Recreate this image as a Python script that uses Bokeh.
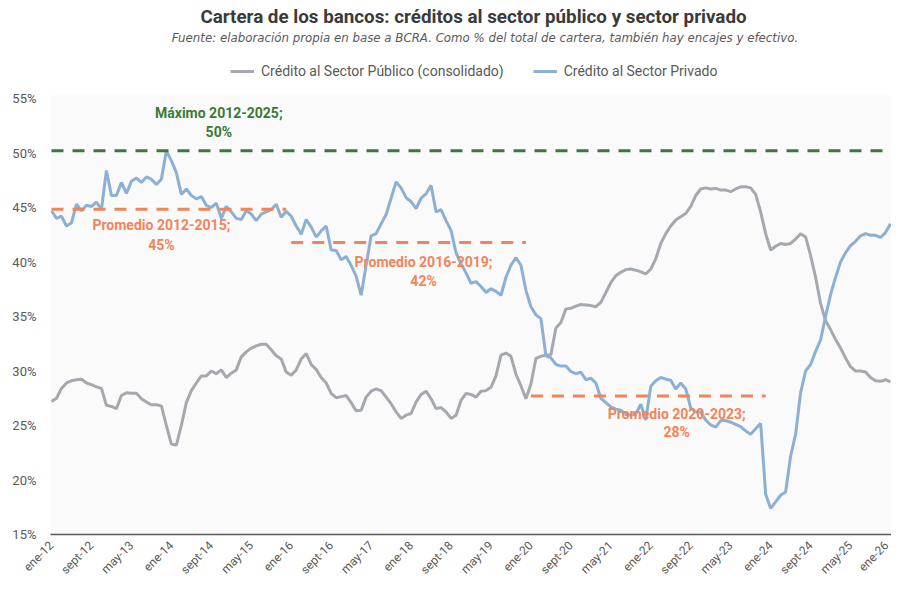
from math import pi
from bokeh.plotting import figure
from bokeh.models import Range1d, Label, Legend, LegendItem, FixedTicker
from bokeh.embed import file_html
from bokeh.resources import INLINE

# ---------------- data (monthly, ene-2012 .. ene-2026, % of bank portfolio) ----------------
private = [
    44.7, 44.0, 44.2, 43.3, 43.6, 45.3, 44.7, 45.2, 45.1, 45.5,
    44.8, 48.4, 46.1, 46.1, 47.3, 46.3, 47.4, 47.7, 47.3, 47.8,
    47.6, 47.1, 47.6, 50.2, 49.3, 48.2, 46.2, 46.7, 46.1, 45.8,
    46.0, 45.2, 45.0, 45.4, 44.0, 45.1, 44.6, 44.0, 43.9, 44.7,
    44.4, 43.8, 44.4, 44.6, 44.8, 45.3, 44.1, 44.65, 44.2, 43.3,
    42.55, 43.9, 43.2, 42.3, 42.85, 43.3, 41.1, 41.05, 40.2, 40.5,
    39.7, 38.7, 36.95, 39.7, 42.4, 42.6, 43.5, 44.35, 45.85, 47.35,
    46.8, 45.9, 45.55, 44.9, 45.85, 46.25, 47.05, 44.6, 44.8, 43.8,
    42.9, 40.85, 39.85, 39.0, 38.05, 38.2, 37.75, 37.2, 37.55, 37.3,
    36.95, 38.6, 39.7, 40.4, 39.7, 37.4, 35.9, 35.15, 34.8, 31.4,
    31.2, 30.6, 30.45, 30.45, 29.95, 29.75, 29.9, 29.2, 29.35, 28.9,
    27.5, 27.1, 26.7, 26.5, 26.4, 26.0, 25.95, 26.05, 26.95, 25.5,
    28.6, 29.1, 29.4, 29.25, 29.15, 28.35, 28.9, 28.35, 26.6, 26.25,
    26.25, 25.5, 25.05, 24.85, 25.45, 25.45, 25.3, 25.1, 24.9, 24.5,
    24.2, 24.7, 25.2, 18.7, 17.4, 18.0, 18.6, 18.9, 22.2, 24.2,
    28.0, 30.0, 30.6, 31.8, 32.85, 35.0, 37.0, 38.6, 40.0, 40.85,
    41.5, 41.9, 42.4, 42.6, 42.45, 42.45, 42.25, 42.7, 43.5,
]

public = [
    27.2, 27.5, 28.4, 28.9, 29.1, 29.2, 29.25, 28.9, 28.75, 28.55,
    28.4, 26.85, 26.75, 26.55, 27.75, 28.0, 27.95, 27.95, 27.45, 27.15,
    26.9, 26.9, 26.8, 25.0, 23.3, 23.2, 25.0, 27.1, 28.2, 28.9,
    29.55, 29.55, 30.0, 29.75, 30.1, 29.4, 29.8, 30.1, 31.3, 31.75,
    32.1, 32.3, 32.45, 32.45, 31.95, 31.4, 31.1, 29.9, 29.6, 30.1,
    31.1, 31.6, 30.6, 30.15, 29.4, 28.9, 27.95, 27.55, 27.65, 27.75,
    27.1, 26.35, 26.4, 27.6, 28.15, 28.35, 28.2, 27.6, 27.0, 26.25,
    25.65, 25.95, 26.1, 27.15, 27.85, 28.15, 27.45, 26.55, 26.65, 26.25,
    25.65, 25.95, 27.3, 27.95, 27.85, 27.6, 28.15, 28.2, 28.5, 29.55,
    31.45, 31.65, 31.35, 29.7, 28.65, 27.45, 28.8, 31.15, 31.35, 31.45,
    31.5, 33.95, 34.45, 35.7, 35.75, 35.95, 36.1, 36.05, 36.0, 35.9,
    36.3, 37.2, 38.1, 38.75, 39.05, 39.3, 39.35, 39.25, 39.1, 38.9,
    39.35, 40.3, 41.7, 42.6, 43.3, 43.85, 44.15, 44.45, 45.1, 46.1,
    46.7, 46.8, 46.7, 46.75, 46.6, 46.6, 46.45, 46.7, 46.9, 46.9,
    46.8, 46.2, 44.6, 42.6, 41.1, 41.45, 41.7, 41.6, 41.7, 42.1,
    42.6, 42.3, 40.6, 38.6, 36.2, 34.6, 33.8, 32.9, 32.1, 31.2,
    30.4, 30.0, 30.0, 29.9, 29.4, 29.1, 29.05, 29.2, 29.0,
]

tick_labels = ["ene-12", "sept-12", "may-13", "ene-14", "sept-14", "may-15",
               "ene-16", "sept-16", "may-17", "ene-18", "sept-18", "may-19",
               "ene-20", "sept-20", "may-21", "ene-22", "sept-22", "may-23",
               "ene-24", "sept-24", "may-25", "ene-26"]
tick_step = 8  # months between labels

series_names = ["Crédito al Sector Público (consolidado)", "Crédito al Sector Privado"]

avg_periods = [(2012, 2015), (2016, 2019), (2020, 2023)]
avg_values = [44.85, 41.8, 27.7]
avg_texts = ["45%", "42%", "28%"]
max_period = "2012-2025"
max_text = "50%"
first_year = 2012

y_ticks = [15, 20, 25, 30, 35, 40, 45, 50, 55]

title_text = "Cartera de los bancos: créditos al sector público y sector privado"
subtitle_text = ("Fuente: elaboración propia en base a BCRA. Como % del total de cartera, "
                 "también hay encajes y efectivo.")

# ---------------- styling / layout ----------------
GRAY = "#a5a9ae"
BLUE = "#8cb0d3"
GREEN = "#3a7a36"
ORANGE = "#f2845a"
TXT = "#595959"
FONT = "Roboto"

W, H = 891, 584
BORDER_LEFT, BORDER_BOTTOM = 50, 50
PX_PER_PCT = 10.9
frame_h = H - BORDER_BOTTOM
y_min = y_ticks[0]
y_top = y_min + frame_h / PX_PER_PCT      # frame extends to the top of the canvas


def fy(page_y):
    """value on the y scale for a vertical pixel position (from top of canvas)"""
    return y_top - page_y / PX_PER_PCT


x = list(range(len(private)))
n = len(private) - 1
x0, x1 = -0.2, n + 0.2

p = figure(width=W, height=H, output_backend="svg", toolbar_location=None,
           x_range=Range1d(x0, x1), y_range=Range1d(y_min, y_top),
           min_border_left=BORDER_LEFT, min_border_right=0, min_border_top=0,
           min_border_bottom=BORDER_BOTTOM,
           background_fill_color="white", border_fill_color="white")
p.outline_line_color = None
p.grid.visible = False

# plot-area shading (only the 15%-55% region)
p.quad(left=[x0], right=[x1], bottom=[y_min], top=[y_ticks[-1] + 0.3],
       fill_color="#fafafa", line_color=None)

r_pub = p.line(x, public, line_color=GRAY, line_width=3)
r_priv = p.line(x, private, line_color=BLUE, line_width=3)

# maximum line
max_value = max(private)
p.line([0, n], [max_value, max_value], line_color=GREEN, line_width=3, line_dash="12 9")

# averages
for (ya, yb), v in zip(avg_periods, avg_values):
    i0 = (ya - first_year) * 12
    i1 = min((yb - first_year) * 12 + 11, n)
    p.line([i0, i1], [v, v], line_color=ORANGE, line_width=3, line_dash="12 9")


def add_label(xv, yv, text, color, size="14px", style="bold", font=FONT):
    p.add_layout(Label(x=xv, y=yv, text=text, text_align="center", text_baseline="middle",
                       text_color=color, text_font=font, text_font_style=style,
                       text_font_size=size))


add_label(33.5, 53.65, "Máximo " + max_period + ";", GREEN)
add_label(33.5, 51.95, max_text, GREEN)
label_pos = [(22.0, 43.35, 41.55), (74.5, 40.0, 38.3), (125.2, 26.1, 24.4)]
for (ya, yb), t, (lx, ly1, ly2) in zip(avg_periods, avg_texts, label_pos):
    add_label(lx, ly1, "Promedio %d-%d;" % (ya, yb), ORANGE)
    add_label(lx, ly2, t, ORANGE)

# title & subtitle
add_label(n / 2 + 0.5, fy(16), title_text, "#3a3a3a", size="18.8px")
add_label(n / 2 + 2.8, fy(37), subtitle_text, TXT, size="11.8px", style="italic", font="DejaVu Sans")

# legend (inside the extended frame, above the shaded area)
legend = Legend(items=[LegendItem(label=series_names[0], renderers=[r_pub]),
                       LegendItem(label=series_names[1], renderers=[r_priv])],
                orientation="horizontal", location=(180, frame_h - 79),
                border_line_color=None, background_fill_alpha=0,
                label_text_font=FONT, label_text_font_size="14px", label_text_color=TXT,
                glyph_width=24, glyph_height=16, label_standoff=7, spacing=29,
                padding=1, margin=0)
p.add_layout(legend)

# axes
ticks = list(range(0, n + 1, tick_step))
p.xaxis.ticker = FixedTicker(ticks=ticks)
p.xaxis.major_label_overrides = {t: l for t, l in zip(ticks, tick_labels)}
p.xaxis.major_label_orientation = pi / 4
p.xaxis.axis_line_color = "#595959"
p.xaxis.axis_line_width = 1.5
p.xaxis.major_tick_line_color = None
p.xaxis.minor_tick_line_color = None
p.xaxis.major_label_text_color = TXT
p.xaxis.major_label_text_font = FONT
p.xaxis.major_label_text_font_size = "12px"
p.xaxis.major_label_standoff = 3

p.yaxis.ticker = FixedTicker(ticks=y_ticks)
p.yaxis.major_label_overrides = {t: "%d%%" % t for t in y_ticks}
p.yaxis.axis_line_color = None
p.yaxis.major_tick_line_color = None
p.yaxis.minor_tick_line_color = None
p.yaxis.major_label_text_color = TXT
p.yaxis.major_label_text_font = FONT
p.yaxis.major_label_text_font_size = "13px"
p.yaxis.major_label_standoff = 8

open("out.html", "w").write(file_html(p, INLINE))
